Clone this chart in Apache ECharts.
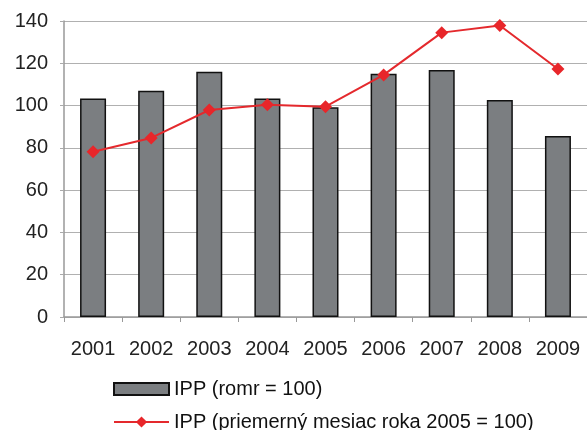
<!DOCTYPE html>
<html><head><meta charset="utf-8">
<script src="https://cdn.jsdelivr.net/npm/echarts@6/dist/echarts.min.js"></script>
<style>html,body{margin:0;padding:0;background:#fff;}#c{width:587px;height:430px;}</style>
</head><body><div id="c"></div>
<script>
const years = ['2001','2002','2003','2004','2005','2006','2007','2008','2009'];
const ippRomr = [103.4, 107.0, 116.0, 103.4, 99.2, 115.0, 116.8, 102.6, 85.6];
const ippAvg2005 = [78.2, 84.7, 97.9, 100.4, 99.5, 114.5, 134.5, 137.9, 117.3];
const yTicks = [0, 20, 40, 60, 80, 100, 120, 140];
const nameBar = 'IPP (romr = 100)';
const nameLine = 'IPP (priemerný mesiac roka 2005 = 100)';

const chart = echarts.init(document.getElementById('c'));
const font = 'Liberation Sans, Arial, sans-serif';
const legendText = { fontFamily: font, fontSize: 20, color: '#111' };
chart.setOption({
  animation: false,
  backgroundColor: '#fff',
  grid: { left: 64, top: 21, right: -3, bottom: 113, containLabel: false },
  legend: [
    {
      left: 113, top: 379, itemWidth: 55, itemHeight: 12, padding: 0,
      textStyle: legendText, data: [{ name: nameBar, icon: 'rect' }]
    },
    {
      left: 113, top: 412, itemWidth: 55, itemHeight: 14, padding: 0,
      textStyle: legendText, data: [nameLine]
    }
  ],
  xAxis: {
    type: 'category', data: years, boundaryGap: true,
    axisLine: { lineStyle: { color: '#999', width: 1.5 } },
    axisTick: { show: true, length: 5, lineStyle: { color: '#999' } },
    axisLabel: { fontFamily: font, fontSize: 20, color: '#222', margin: 22 }
  },
  yAxis: {
    type: 'value', min: yTicks[0], max: yTicks[yTicks.length - 1], interval: 20,
    axisLine: { show: true, lineStyle: { color: '#999', width: 1.5 } },
    axisTick: { show: true, length: 4, lineStyle: { color: '#aaa' } },
    axisLabel: { fontFamily: font, fontSize: 20, color: '#222', margin: 16 },
    splitLine: { lineStyle: { color: '#b0b0b0', width: 1.2 } }
  },
  series: [
    {
      name: nameBar, type: 'bar', data: ippRomr, barWidth: 26,
      itemStyle: { color: '#7b7e81', borderColor: '#111', borderWidth: 1.5 }
    },
    {
      name: nameLine, type: 'line', data: ippAvg2005,
      symbol: 'diamond', symbolSize: 13,
      lineStyle: { color: '#e4292d', width: 2 },
      itemStyle: { color: '#e8262a' }
    }
  ]
});
</script></body></html>
